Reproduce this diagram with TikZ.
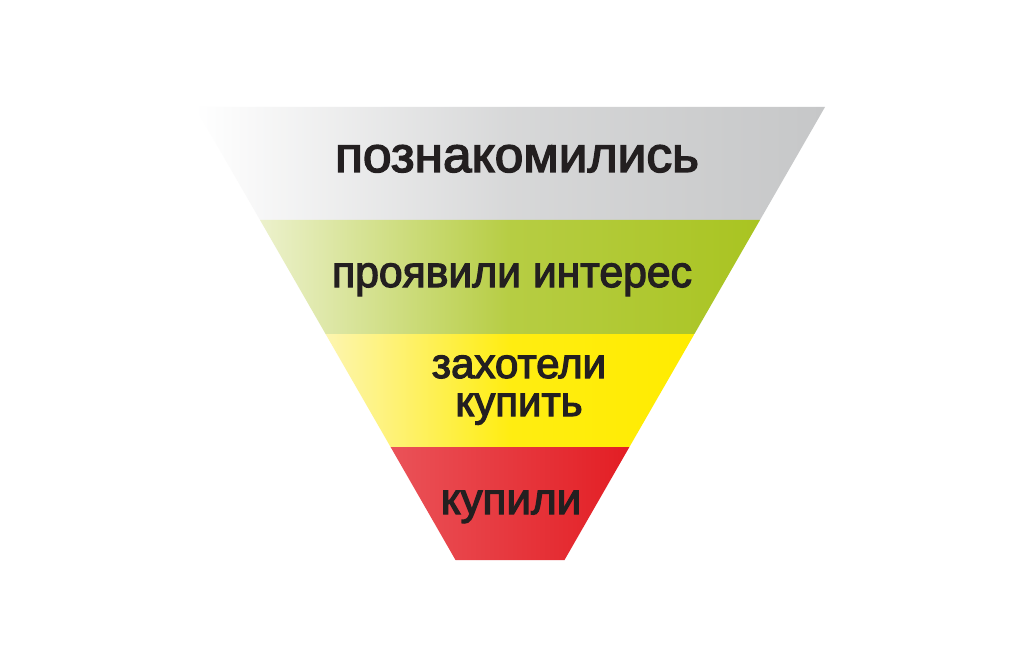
\documentclass[tikz,border=0pt]{standalone}
\usepackage{fontspec}
\setmainfont{Liberation Sans}[FakeBold=2.8]
\begin{document}
\begin{tikzpicture}[x=1pt,y=-1pt,
  lbl/.style={anchor=base,inner sep=0pt,text=txt}]
\definecolor{txt}{HTML}{231F20}
\definecolor{gr}{HTML}{C6C7C8}
\definecolor{grl}{HTML}{FFFFFF}
\definecolor{gn}{HTML}{A9C421}
\definecolor{gnl}{HTML}{ECF1CC}
\definecolor{ye}{HTML}{FFEC00}
\definecolor{yel}{HTML}{FDF5B0}
\definecolor{rd}{HTML}{E31E24}
\definecolor{rdl}{HTML}{EA5258}
\useasboundingbox (0,0) rectangle (1024,668);
\fill[white] (0,0) rectangle (1024,668);
\shade[left color=grl,right color=gr,middle color=gr!70!grl] (195,107) -- (825,107) -- (760,220) -- (260,220) -- cycle;
\shade[left color=gnl,right color=gn,middle color=gn!80!gnl] (260,220) -- (760,220) -- (694.4,334) -- (325.6,334) -- cycle;
\shade[left color=yel,right color=ye,middle color=ye!90!yel] (325.6,334) -- (694.4,334) -- (629.4,447) -- (390.6,447) -- cycle;
\shade[left color=rdl,right color=rd] (390.6,447) -- (629.4,447) -- (564.5,560) -- (455.5,560) -- cycle;
\node[lbl,font=\fontsize{50}{50}\selectfont,xscale=1.03] (t1) at (517,172) {познакомились};
\node[lbl,font=\fontsize{44}{44}\selectfont,xscale=0.97] (t2) at (512,287) {проявили интерес};
\node[lbl,align=center,font=\fontsize{42}{38}\selectfont] (t3) at (519,416) {захотели\\купить};
\node[lbl,font=\fontsize{44}{44}\selectfont] (t5) at (511,514) {купили};
\end{tikzpicture}
\end{document}
